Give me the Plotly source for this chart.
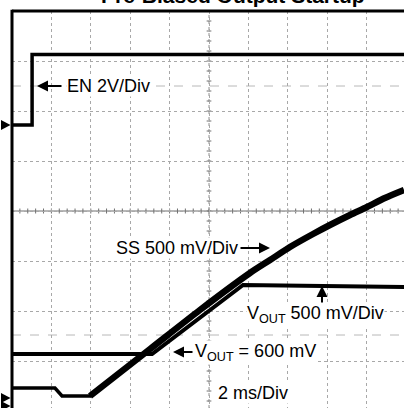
import plotly.graph_objects as go

# ---- data (time in ms, voltages in V) ----
en_t = [0.0, 1.02, 1.02, 19.9]
en_v = [0.0, 0.0, 2.82, 2.82]

ss_t = [0.0, 2.18, 2.54, 3.96, 7.01, 9.54, 12.08, 13.10, 14.11, 15.28, 16.14, 17.16, 18.02, 18.93, 19.9]
ss_v = [0.10, 0.10, 0.02, 0.02, 0.49, 0.88, 1.25, 1.38, 1.51, 1.64, 1.73, 1.83, 1.91, 2.00, 2.08]

vout_t = [0.0, 7.11, 11.73, 15.0, 19.9]
vout_v = [0.52, 0.52, 1.21, 1.20, 1.19]

# channel settings: volts per division and ground position (divisions)
en_scale, en_gnd = 2.0, 5.72
ss_scale, ss_gnd = 0.5, 0.26
vout_scale, vout_gnd = 0.5, 0.10

W, H = 404, 408
L, T = 12, 11
PXDIV_X = 39.4   # px per 2 ms
PXDIV_Y = 50.0   # px per division
X_MAX = (W - L) / PXDIV_X * 2
Y_MIN = ((T + 8 * PXDIV_Y) - H) / PXDIV_Y


def to_div(v, scale, gnd):
    return [gnd + x / scale for x in v]


def px_x(px):
    return (px - L) / PXDIV_X * 2


def px_y(py):
    return (T + 8 * PXDIV_Y - py) / PXDIV_Y


def paper_x(px):
    return (px - L) / (W - L)


def paper_y(py):
    return (H - py) / (H - T)


fig = go.Figure()
fig.add_trace(go.Scatter(x=en_t, y=to_div(en_v, en_scale, en_gnd), mode="lines",
                         line=dict(color="black", width=3.5), hoverinfo="skip"))
fig.add_trace(go.Scatter(x=vout_t, y=to_div(vout_v, vout_scale, vout_gnd), mode="lines",
                         line=dict(color="black", width=4), hoverinfo="skip"))
# SS: thin before the ramp, thick (noisy) during the ramp
fig.add_trace(go.Scatter(x=ss_t[:5], y=to_div(ss_v[:5], ss_scale, ss_gnd), mode="lines",
                         line=dict(color="black", width=3.5), hoverinfo="skip"))
fig.add_trace(go.Scatter(x=ss_t[3:], y=to_div(ss_v[3:], ss_scale, ss_gnd), mode="lines",
                         line=dict(color="black", width=6.5, shape="spline", smoothing=0.8),
                         hoverinfo="skip"))

shapes = []
# extra dashed cursor lines
for dv in [6.5, 1.52]:
    shapes.append(dict(type="line", xref="paper", yref="y", x0=0, x1=1, y0=dv, y1=dv,
                       line=dict(color="#b8b8b8", width=1, dash="dash"), layer="below"))
# center axes
shapes.append(dict(type="line", xref="paper", yref="y", x0=0, x1=1, y0=4, y1=4,
                   line=dict(color="#707070", width=1.2), layer="below"))
shapes.append(dict(type="line", xref="x", yref="paper", x0=10, x1=10, y0=0, y1=1,
                   line=dict(color="#909090", width=1, dash="dot"), layer="below"))
for i in range(1, 50):
    xv = i * 0.4
    shapes.append(dict(type="line", xref="x", yref="y", x0=xv, x1=xv, y0=4 - 0.05, y1=4 + 0.05,
                       line=dict(color="#707070", width=1), layer="below"))
for i in range(1, 40):
    yv = i * 0.2
    shapes.append(dict(type="line", xref="x", yref="y", x0=10 - 0.12, x1=10 + 0.12, y0=yv, y1=yv,
                       line=dict(color="#707070", width=1), layer="below"))
# frame
shapes.append(dict(type="line", xref="paper", yref="paper", x0=0, x1=0, y0=-0.05, y1=1.003,
                   line=dict(color="black", width=3)))
shapes.append(dict(type="line", xref="paper", yref="paper", x0=0, x1=1.05, y0=1.0, y1=1.0,
                   line=dict(color="black", width=3)))
# ground markers
for g in [en_gnd, ss_gnd, vout_gnd]:
    py = T + 8 * PXDIV_Y - g * PXDIV_Y
    shapes.append(dict(type="path", xref="paper", yref="paper",
                       path="M {a},{b} L {c},{d} L {a},{e} Z".format(
                           a=paper_x(1), b=paper_y(py - 5), c=paper_x(10.5), d=paper_y(py), e=paper_y(py + 5)),
                       fillcolor="black", line=dict(color="black", width=0)))

FONT = dict(family="Arial, Liberation Sans, sans-serif", size=18, color="black")
ann = []


def arrow(x0, y0, x1, y1):
    # arrow from pixel (x0,y0) tail to (x1,y1) head
    ann.append(dict(x=px_x(x1), y=px_y(y1), ax=px_x(x0), ay=px_y(y0), xref="x", yref="y",
                    axref="x", ayref="y", text="", showarrow=True, arrowhead=2, arrowsize=1.1,
                    arrowwidth=2, arrowcolor="black", standoff=0, startstandoff=0))


def label(txt, px, py, anchor="left"):
    ann.append(dict(x=px_x(px), y=px_y(py), xref="x", yref="y", text=txt, showarrow=False,
                    xanchor=anchor, yanchor="middle", font=FONT, bgcolor="white", borderpad=0))


label("EN 2V/Div", 66, 86)
arrow(63, 86, 37, 86)
label("SS 500 mV/Div", 115, 248)
arrow(239, 248, 270, 248)
label("V<sub>OUT</sub> 500 mV/Div", 246, 314)
arrow(322, 304, 322, 286)
label("V<sub>OUT</sub> = 600 mV", 194, 352)
arrow(194, 352, 173, 352)
label("2 ms/Div", 217, 393)

ann.append(dict(x=paper_x(233), y=paper_y(9), xref="paper", yref="paper",
                text="<b>Pre-Biased Output Startup</b>", showarrow=False,
                xanchor="center", yanchor="bottom",
                font=dict(family="Arial, Liberation Sans, sans-serif", size=21, color="black")))

fig.update_layout(
    width=W, height=H,
    margin=dict(l=L, r=0, t=T, b=0),
    paper_bgcolor="white", plot_bgcolor="white",
    showlegend=False,
    xaxis=dict(range=[0, X_MAX], dtick=2, tick0=0, showgrid=True, gridcolor="#a8a8a8",
               griddash="dot", gridwidth=1, zeroline=False, showticklabels=False, ticks=""),
    yaxis=dict(range=[Y_MIN, 8], dtick=1, tick0=0, showgrid=True, gridcolor="#a8a8a8",
               griddash="dot", gridwidth=1, zeroline=False, showticklabels=False, ticks=""),
    shapes=shapes,
    annotations=ann,
)

fig.write_html("out.html", config={"displayModeBar": False},
               post_script="document.body.style.margin='0';document.body.style.padding='0';")
